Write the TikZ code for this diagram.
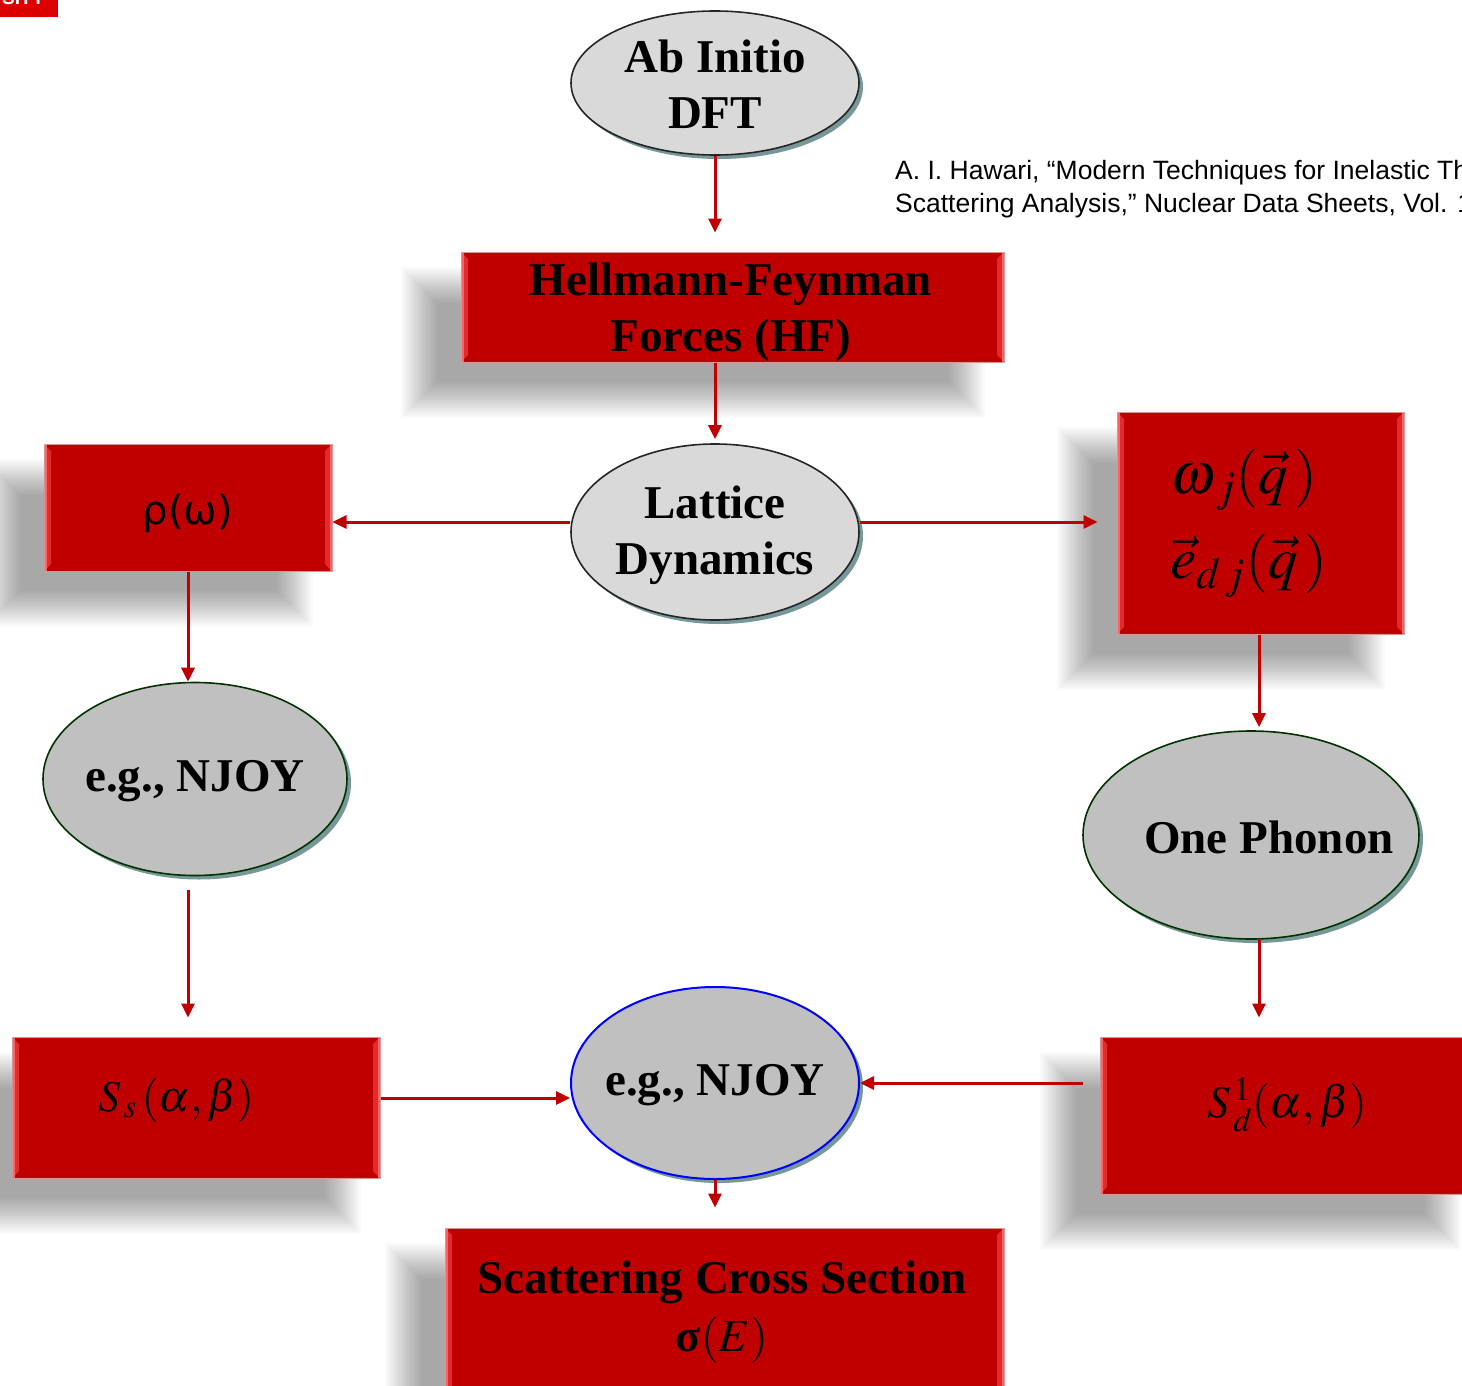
\documentclass[tikz,border=0pt]{standalone}
\usepackage{mathptmx}
\usepackage[no-math]{fontspec}
\setmainfont{Liberation Serif}
\newfontfamily\arialf{Liberation Sans}
\newfontfamily\dvsans{DejaVu Sans}
\usetikzlibrary{shapes.geometric,shadows,arrows.meta}
\pgfdeclarelayer{background}
\pgfsetlayers{background,main}
\definecolor{boxred}{RGB}{192,0,0}
\definecolor{bevelred}{RGB}{226,44,44}
\definecolor{bevelhi}{RGB}{255,100,100}
\definecolor{edgered}{RGB}{215,150,150}
\definecolor{ellpale}{RGB}{217,217,217}
\definecolor{ellgray}{RGB}{192,192,192}
\definecolor{ellgreen}{RGB}{0,51,0}
\definecolor{ellblue}{RGB}{0,0,255}
\definecolor{shadowteal}{RGB}{95,135,135}
\definecolor{arrred}{RGB}{192,0,0}
\definecolor{tabred}{RGB}{218,0,0}
% soft shadow behind a box: stacked translucent rectangles
\newcommand\boxsoftshadow[1]{%
  \begin{pgfonlayer}{background}
  \foreach \dd in {20,18,...,-16} {
    \fill[black, opacity=0.018]
      ([xshift=-40pt-\dd pt, yshift=-35pt-\dd pt]#1.south west)
      rectangle ([xshift=-40pt+\dd pt, yshift=-35pt+\dd pt]#1.north east);
  }
  \end{pgfonlayer}}
\begin{document}
\begin{tikzpicture}[x=1pt,y=-1pt,
  arr/.style={draw=arrred, line width=3pt, -{Triangle[length=14pt,width=13pt]}},
  bigtxt/.style={font=\fontsize{47}{56}\selectfont\bfseries, align=center, inner sep=0pt, text=black},
  ell/.style={ellipse, inner sep=0pt, line width=1.6pt,
    drop shadow={shadow xshift=4pt, shadow yshift=-4pt, fill=shadowteal, opacity=0.85}},
  redbox/.style={rectangle, fill=boxred, draw=edgered, line width=1pt, inner sep=0pt,
    path picture={
      \fill[bevelred] (path picture bounding box.south west) -- (path picture bounding box.north west)
        -- ([xshift=7pt,yshift=-7pt]path picture bounding box.north west)
        -- ([xshift=7pt,yshift=7pt]path picture bounding box.south west) -- cycle;
      \fill[bevelred] (path picture bounding box.south east) -- (path picture bounding box.north east)
        -- ([xshift=-7pt,yshift=-7pt]path picture bounding box.north east)
        -- ([xshift=-7pt,yshift=7pt]path picture bounding box.south east) -- cycle;
      \fill[bevelhi] (path picture bounding box.south west) rectangle ([xshift=2.5pt]path picture bounding box.north west);
      \fill[bevelhi] (path picture bounding box.south east) rectangle ([xshift=-2.5pt]path picture bounding box.north east);
    }},
  mathtxt/.style={inner sep=0pt, text=black}
]
\useasboundingbox (0,0) rectangle (1462,1386);
\clip (0,0) rectangle (1462,1386);
\begin{pgfonlayer}{background}
\fill[white] (0,0) rectangle (1462,1386);
\end{pgfonlayer}

% top-left tab
\fill[tabred] (0,0) rectangle (58,17);
\node[anchor=base west, inner sep=0pt, text=white, font=\arialf\bfseries\fontsize{19}{19}\selectfont] (tabtxt) at (2,5) {SITY};

% citation
\node[anchor=base west, inner sep=0pt, font=\arialf\fontsize{26.5}{30}\selectfont] (cite1) at (895,179) {A. I. Hawari, “Modern Techniques for Inelastic Th};
\node[anchor=base west, inner sep=0pt, font=\arialf\fontsize{26.5}{30}\selectfont] (cite2) at (895,212) {Scattering Analysis,” Nuclear Data Sheets, Vol. 1};

% nodes
\node[ell, fill=ellpale, draw=black!85, minimum width=288pt, minimum height=144pt] (abinit) at (715,83) {};
\node[bigtxt] (abinitT) at (715,84) {Ab Initio\\DFT};

\node[redbox, minimum width=543pt, minimum height=110pt] (hf) at (732.5,307) {};
\boxsoftshadow{hf}
\node[bigtxt] (hfT) at (731,312) {Hellmann-Feynman\\Forces (HF)};

\node[ell, fill=ellpale, draw=black!85, minimum width=288pt, minimum height=176pt] (lat) at (715,532) {};
\node[bigtxt] (latT) at (715,535) {Lattice\\Dynamics};

\node[redbox, minimum width=288pt, minimum height=127pt] (rho) at (188,507.5) {};
\boxsoftshadow{rho}
\node[mathtxt, font=\dvsans\fontsize{40}{44}\selectfont] (rhoT) at (188,513) {ρ(ω)};

\node[redbox, minimum width=287pt, minimum height=222pt] (omega) at (1260.5,523) {};
\boxsoftshadow{omega}
\node[mathtxt, anchor=west, font=\fontsize{59}{60}\selectfont] (omT1) at (1170,480) {$\omega_{\,j}(\vec{q}\,)$};
\node[mathtxt, anchor=west, font=\fontsize{59}{60}\selectfont] (omT2) at (1170,566) {$\vec{e}_{d\,j}(\vec{q}\,)$};

\node[ell, fill=ellgray, draw=ellgreen, minimum width=304pt, minimum height=193pt] (njl) at (195,779) {};
\node[bigtxt] (njlT) at (195,781) {e.g., NJOY};

\node[ell, fill=ellgray, draw=ellgreen, minimum width=336pt, minimum height=208pt] (phonon) at (1251,835) {};
\node[bigtxt] (phononT) at (1269,837) {One Phonon};

\node[redbox, minimum width=368pt, minimum height=141pt] (ss) at (196,1107.5) {};
\boxsoftshadow{ss}
\node[mathtxt, font=\fontsize{44}{48}\selectfont] (ssT) at (176,1100) {$S_{\,s}\,(\alpha,\beta)$};

\node[redbox, minimum width=380pt, minimum height=157pt] (sd) at (1290,1115.5) {};
\boxsoftshadow{sd}
\node[mathtxt, font=\fontsize{45}{48}\selectfont] (sdT) at (1287,1105) {$S^{\,1}_{\,d}(\alpha,\beta)$};

\node[ell, fill=ellgray, draw=ellblue, line width=2pt, minimum width=288pt, minimum height=192pt] (nj) at (715,1083) {};
\node[bigtxt] (njT) at (715,1085) {e.g., NJOY};

\node[redbox, minimum width=559pt, minimum height=175pt] (bot) at (724.5,1315.5) {};
\boxsoftshadow{bot}
\node[bigtxt] (botT1) at (722,1282) {Scattering Cross Section};
\node[mathtxt, font=\fontsize{46}{50}\selectfont] (botT2) at (722,1340) {\textbf{σ}$(E)$};

% connectors
\coordinate (yL) at (0,522);
\coordinate (yS) at (0,1098);
\draw[arr, shorten >=19pt] (abinit.south) -- (abinit.south |- hf.north);
\draw[arr, shorten >=4pt] (lat.north |- hf.south) -- (lat.north);
\draw[arr] (lat.west |- yL) -- (rho.east |- yL);
\draw[arr, shorten >=19pt] (lat.east |- yL) -- (omega.west |- yL);
\draw[arr, shorten >=3pt] ([xshift=-1.5pt]omega.south) -- ([xshift=-1.5pt]omega.south |- phonon.north);
\draw[arr, shorten >=19pt] ([xshift=-1.5pt]omega.south |- phonon.south) -- ([xshift=-1.5pt]omega.south |- sd.north);
\draw[arr, shorten <=17pt] (sd.west |- nj.east) -- (nj.east);
\draw[arr] (ss.east |- yS) -- (nj.west |- yS);
\draw[arr, shorten >=20pt] (nj.south) -- (nj.south |- bot.north);
\draw[arr] (rho.south) -- (rho.south |- njl.north);
\draw[arr, shorten <=14pt, shorten >=19pt] (rho.south |- njl.south) -- (rho.south |- ss.north);
\end{tikzpicture}
\end{document}
